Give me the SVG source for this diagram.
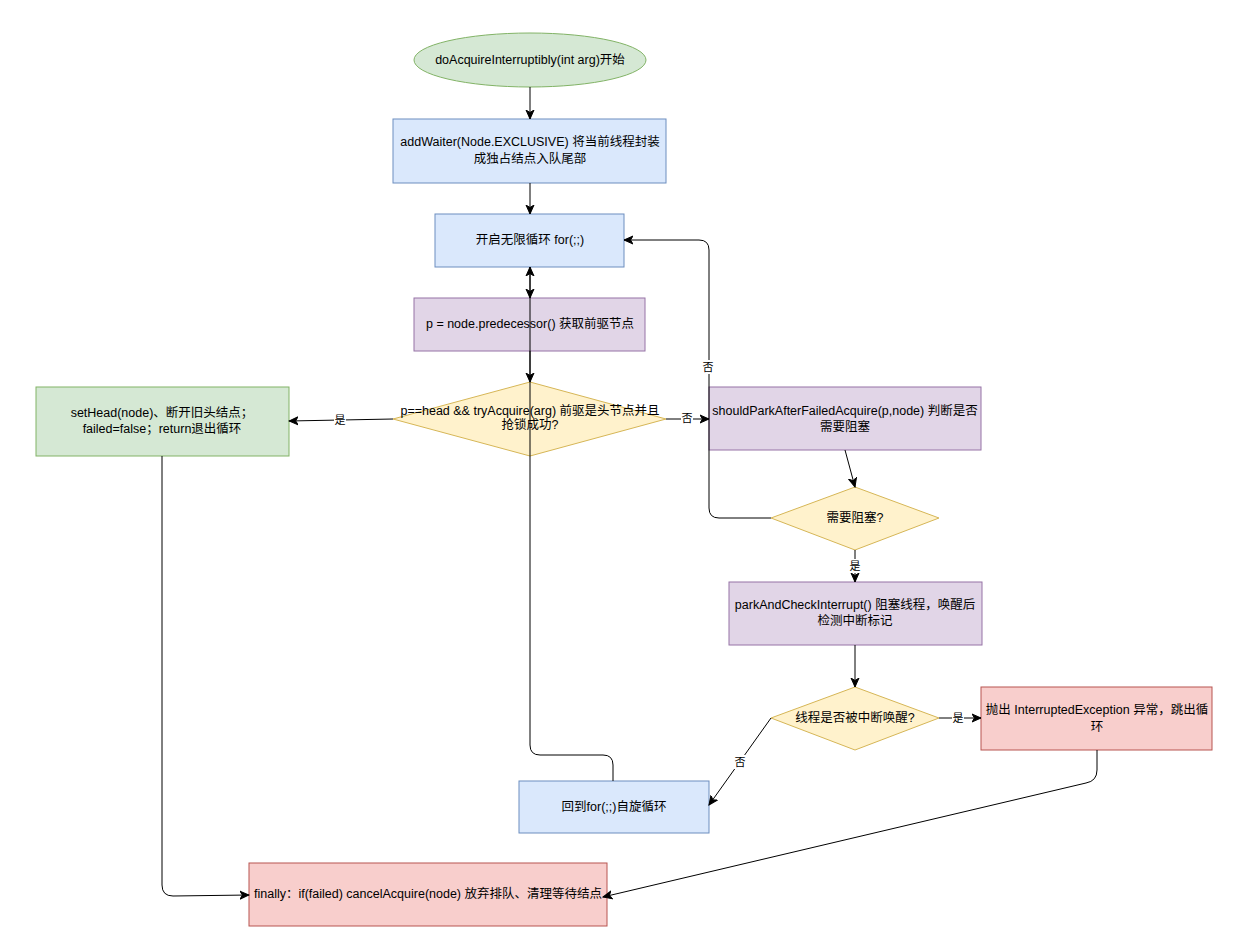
<svg xmlns="http://www.w3.org/2000/svg" width="1238" height="939" viewBox="0 0 1238 939">
<style>
text{font-family:"Liberation Sans","Noto Sans CJK SC",sans-serif;font-size:12.5px;fill:#000;text-anchor:middle;dominant-baseline:central}
.lbl{font-size:11px}
.e{fill:none;stroke:#000;stroke-width:1}
.g{fill:#d5e8d4;stroke:#82b366}
.b{fill:#dae8fc;stroke:#6c8ebf}
.p{fill:#e1d5e7;stroke:#9673a6}
.y{fill:#fff2cc;stroke:#d6b656}
.r{fill:#f8cecc;stroke:#b85450}
.lb{fill:#fff}
</style>
<defs>
<marker id="a" markerUnits="userSpaceOnUse" markerWidth="10" markerHeight="10" refX="9" refY="5" orient="auto">
<path d="M0,1 L9,5 L0,9 L2.5,5 z" fill="#000" stroke="#000" stroke-width="1"/>
</marker>
</defs>
<rect width="1238" height="939" fill="#fff"/>
<g id="start"><ellipse class="g" cx="530" cy="60" rx="116" ry="27"/><text x="530" y="60">doAcquireInterruptibly(int arg)开始</text></g>
<g id="addWaiter"><rect class="b" x="393" y="119" width="273" height="64"/><text x="530" y="142">addWaiter(Node.EXCLUSIVE) 将当前线程封装</text><text x="530" y="159">成独占结点入队尾部</text></g>
<g id="loop"><rect class="b" x="435" y="214" width="189" height="53"/><text x="530" y="240">开启无限循环 for(;;)</text></g>
<g id="pred"><rect class="p" x="414" y="298" width="231" height="53"/><text x="530" y="324">p = node.predecessor() 获取前驱节点</text></g>
<g id="cond1"><polygon class="y" points="530,382 666,419 530,456 393,419"/><text x="530" y="411">p==head &amp;&amp; tryAcquire(arg) 前驱是头节点并且</text><text x="530" y="425">抢锁成功?</text></g>
<g id="setHead"><rect class="g" x="36" y="387" width="253" height="69"/><text x="162" y="413">setHead(node)、断开旧头结点；</text><text x="162" y="429">failed=false；return退出循环</text></g>
<g id="shouldPark"><rect class="p" x="709" y="387" width="272" height="63"/><text x="845" y="411">shouldParkAfterFailedAcquire(p,node) 判断是否</text><text x="845" y="427">需要阻塞</text></g>
<g id="cond2"><polygon class="y" points="855,487 939,518 855,550 771,518"/><text x="855" y="518">需要阻塞?</text></g>
<g id="park"><rect class="p" x="729" y="582" width="253" height="63"/><text x="855" y="605">parkAndCheckInterrupt() 阻塞线程，唤醒后</text><text x="855" y="621">检测中断标记</text></g>
<g id="cond3"><polygon class="y" points="855,687 939,718 855,750 771,718"/><text x="855" y="718">线程是否被中断唤醒?</text></g>
<g id="throw"><rect class="r" x="981" y="687" width="231" height="63"/><text x="1097" y="710">抛出 InterruptedException 异常，跳出循</text><text x="1097" y="727">环</text></g>
<g id="back"><rect class="b" x="519" y="781" width="190" height="52"/><text x="614" y="807">回到for(;;)自旋循环</text></g>
<g id="finally"><rect class="r" x="249" y="863" width="358" height="63"/><text x="428" y="894">finally：if(failed) cancelAcquire(node) 放弃排队、清理等待结点</text></g>
<g id="connectors">
<path class="e" d="M530,87 L530,119" marker-end="url(#a)"/>
<path class="e" d="M530,183 L530,214" marker-end="url(#a)"/>
<path class="e" d="M530,267 L530,298" marker-end="url(#a)"/>
<path class="e" d="M530,351 L530,382" marker-end="url(#a)"/>
<path class="e" d="M393,419 L289,421" marker-end="url(#a)"/>
<path class="e" d="M666,419 L709,419" marker-end="url(#a)"/>
<path class="e" d="M845,450 L855,487" marker-end="url(#a)"/>
<path class="e" d="M771,518 L719,518 Q709,518 709,508 L709,250 Q709,240 699,240 L624,240" marker-end="url(#a)"/>
<path class="e" d="M855,550 L855,582" marker-end="url(#a)"/>
<path class="e" d="M855,645 L855,687" marker-end="url(#a)"/>
<path class="e" d="M939,718 L981,718" marker-end="url(#a)"/>
<path class="e" d="M771,718 L709,805" marker-end="url(#a)"/>
<path class="e" d="M613,781 L613,765 Q613,755 603,755 L540,755 Q530,755 530,745 L530,267" marker-end="url(#a)"/>
<path class="e" d="M162,456 L162,885 Q162,896 173,896 L249,895" marker-end="url(#a)"/>
<path class="e" d="M1097,750 L1097,770 Q1097,781 1086,783 L603,897" marker-end="url(#a)"/>
<rect class="lb" x="334" y="413" width="12" height="14"/><text class="lbl" x="340" y="420">是</text>
<rect class="lb" x="681" y="411" width="12" height="14"/><text class="lbl" x="687" y="418">否</text>
<rect class="lb" x="702" y="360" width="12" height="14"/><text class="lbl" x="708" y="367">否</text>
<rect class="lb" x="849" y="559" width="12" height="14"/><text class="lbl" x="855" y="566">是</text>
<rect class="lb" x="952" y="711" width="12" height="14"/><text class="lbl" x="958" y="718">是</text>
<rect class="lb" x="734" y="755" width="12" height="14"/><text class="lbl" x="740" y="762">否</text>
</g>
</svg>
